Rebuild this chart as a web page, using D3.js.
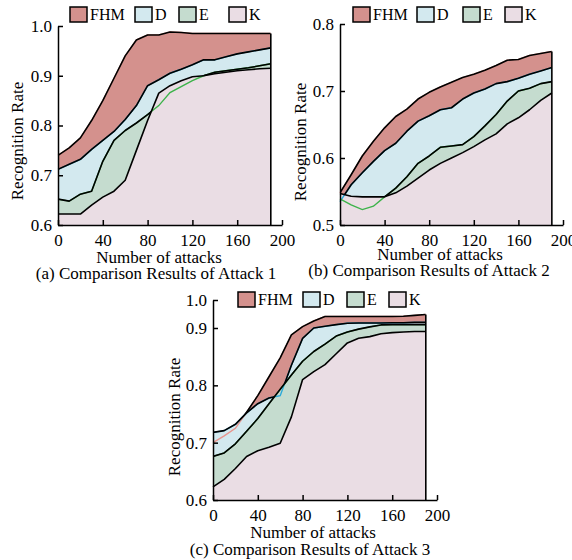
<!DOCTYPE html>
<meta charset="utf-8">
<head>
<title>Recognition rate under attacks</title>
<script src="https://cdn.jsdelivr.net/npm/d3@7"></script>
<style>
    body { margin: 0; background: #fff; }
    svg text { font-family: "Liberation Serif", Tinos, "Times New Roman", Times, "DejaVu Serif", serif; fill: #000; }
</style>
</head>
<body>
<div id="chart"></div>
<script>
    // number of attacks (x values, shared by every panel)
    var attacks = [0, 10, 20, 30, 40, 50, 60, 70, 80, 90, 100, 110, 120, 130, 140, 150, 160, 170, 180, 190];
    var xTicks = [0, 40, 80, 120, 160, 200];

    var seriesNames = ["FHM", "D", "E", "K"];
    var fillColors = ["#d4918d", "#d3e9ef", "#c5dccf", "#eadde4"];
    var lineColors = ["#e8958e", "#2aa9d9", "#3cb34a", "#000000"];

    // (a) attack 1
    var fhm1 = [0.740, 0.755, 0.775, 0.810, 0.850, 0.895, 0.940, 0.972, 0.982, 0.982, 0.988, 0.987, 0.985, 0.985, 0.985, 0.985, 0.985, 0.985, 0.985, 0.985];
    var d1   = [0.712, 0.722, 0.732, 0.752, 0.770, 0.788, 0.812, 0.840, 0.880, 0.892, 0.905, 0.913, 0.922, 0.932, 0.932, 0.938, 0.944, 0.948, 0.952, 0.956];
    var e1   = [0.652, 0.648, 0.662, 0.668, 0.728, 0.770, 0.790, 0.805, 0.822, 0.840, 0.866, 0.878, 0.890, 0.900, 0.907, 0.910, 0.913, 0.916, 0.920, 0.924];
    var k1   = [0.622, 0.622, 0.622, 0.640, 0.656, 0.668, 0.690, 0.750, 0.810, 0.865, 0.880, 0.890, 0.898, 0.900, 0.904, 0.907, 0.910, 0.912, 0.914, 0.915];

    // (b) attack 2
    var fhm2 = [0.548, 0.575, 0.603, 0.625, 0.645, 0.662, 0.673, 0.688, 0.698, 0.706, 0.713, 0.720, 0.725, 0.731, 0.738, 0.746, 0.747, 0.753, 0.756, 0.759];
    var d2   = [0.535, 0.560, 0.578, 0.595, 0.611, 0.622, 0.640, 0.655, 0.663, 0.672, 0.675, 0.688, 0.697, 0.703, 0.711, 0.714, 0.719, 0.725, 0.730, 0.735];
    var e2   = [0.539, 0.530, 0.523, 0.528, 0.542, 0.555, 0.572, 0.592, 0.603, 0.616, 0.618, 0.620, 0.632, 0.648, 0.665, 0.685, 0.700, 0.704, 0.711, 0.714];
    var k2   = [0.547, 0.543, 0.542, 0.542, 0.542, 0.548, 0.558, 0.570, 0.582, 0.592, 0.600, 0.608, 0.617, 0.627, 0.636, 0.651, 0.660, 0.672, 0.686, 0.697];

    // (c) attack 3
    var fhm3 = [0.700, 0.712, 0.725, 0.753, 0.782, 0.815, 0.848, 0.888, 0.905, 0.925, 0.941, 0.941, 0.941, 0.941, 0.941, 0.941, 0.941, 0.942, 0.945, 0.948];
    var d3s  = [0.718, 0.721, 0.732, 0.752, 0.768, 0.778, 0.782, 0.835, 0.882, 0.900, 0.906, 0.912, 0.917, 0.918, 0.918, 0.918, 0.919, 0.919, 0.920, 0.920];
    var e3   = [0.676, 0.682, 0.698, 0.720, 0.742, 0.768, 0.793, 0.818, 0.842, 0.859, 0.872, 0.886, 0.893, 0.898, 0.904, 0.911, 0.912, 0.912, 0.912, 0.912];
    var k3   = [0.623, 0.636, 0.655, 0.676, 0.686, 0.692, 0.699, 0.745, 0.810, 0.824, 0.836, 0.855, 0.874, 0.882, 0.885, 0.890, 0.892, 0.893, 0.894, 0.894];

    var yTicks1 = [0.6, 0.7, 0.8, 0.9, 1.0];
    var yTicks2 = [0.5, 0.6, 0.7, 0.8];
    var yTicks3 = [0.6, 0.7, 0.8, 0.9, 1.0];

    var svg = d3.select("#chart").append("svg")
        .attr("width", 572)
        .attr("height", 560);

    var panels = [
        {id: "a", series: [fhm1, d1, e1, k1], yTicks: yTicks1,
         x: d3.scaleLinear().domain([0, 200]).range([58, 282]),
         y: d3.scaleLinear().domain([0.6, 1.0]).range([225, 26]),
         legendX: [70, 135, 179, 229], legendY: 7,
         yLabel: [23, 141], xLabel: [159, 263], caption: [156, 279],
         captionText: "(a) Comparison Results of Attack 1"},
        {id: "b", series: [fhm2, d2, e2, k2], yTicks: yTicks2,
         x: d3.scaleLinear().domain([0, 200]).range([340, 563]),
         y: d3.scaleLinear().domain([0.5, 0.8]).range([225, 24]),
         legendX: [353, 417, 463, 505], legendY: 7,
         yLabel: [306, 142], xLabel: [440, 260], caption: [429, 276],
         captionText: "(b) Comparison Results of Attack 2"},
        {id: "c", series: [fhm3, d3s, e3, k3], yTicks: yTicks3,
         x: d3.scaleLinear().domain([0, 200]).range([213, 437]),
         // the top of this axis is squeezed in the original figure
         y: d3.scaleLinear().domain([0.6, 0.9, 1.0]).range([500, 328, 300]),
         legendX: [238, 303, 347, 389], legendY: 292,
         yLabel: [180, 417], xLabel: [313, 538], caption: [310, 555],
         captionText: "(c) Comparison Results of Attack 3"}
    ];

    panels.forEach(drawPanel);

    function drawPanel(p) {
        var g = svg.append("g").attr("class", "panel-" + p.id);
        var x = p.x, y = p.y;
        var yBottom = y.domain()[0];
        var yTop = y.domain()[y.domain().length - 1];

        var area = d3.area()
            .x(function(d, i) { return x(attacks[i]); })
            .y0(y(yBottom))
            .y1(function(d) { return y(d); });
        var line = d3.line()
            .x(function(d, i) { return x(attacks[i]); })
            .y(function(d) { return y(d); });
        var above = d3.area()
            .x(function(d, i) { return x(attacks[i]); })
            .y0(y(yTop) - 10)
            .y1(function(d) { return y(d); });

        // clip regions: everything above each series
        p.series.forEach(function(s, i) {
            g.append("clipPath").attr("id", "above-" + p.id + i)
              .append("path").attr("d", above(s));
        });

        // filled areas, drawn in order so K ends on top
        p.series.forEach(function(s, i) {
            g.append("path").attr("d", area(s))
              .attr("fill", fillColors[i]);
        });

        // coloured lines show where a series is hidden under a later one
        p.series.forEach(function(s, i) {
            if (i == p.series.length - 1) return;
            g.append("path").attr("d", line(s))
              .attr("fill", "none")
              .attr("stroke", lineColors[i])
              .attr("stroke-width", 1.4);
        });

        // black outline only where a series is visible
        p.series.forEach(function(s, i) {
            var holder = g;
            for (var j = i + 1; j < p.series.length; j++) {
                holder = holder.append("g").attr("clip-path", "url(#above-" + p.id + j + ")");
            }
            holder.append("path").attr("d", line(s))
              .attr("fill", "none")
              .attr("stroke", "#000")
              .attr("stroke-width", 1.6)
              .attr("stroke-linejoin", "round");
        });

        // right edge of the stacked areas
        var last = attacks.length - 1;
        var edgeTop = d3.max(p.series, function(s) { return s[last]; });
        g.append("line")
            .attr("x1", x(attacks[last])).attr("x2", x(attacks[last]))
            .attr("y1", y(yBottom)).attr("y2", y(edgeTop))
            .attr("stroke", "#000").attr("stroke-width", 1.6);

        // axes
        var yAxis = g.append("g")
            .attr("transform", "translate(" + x(0) + ",0)")
            .call(d3.axisLeft(y).tickValues(p.yTicks).tickFormat(d3.format(".1f"))
                  .tickSizeInner(-5).tickSizeOuter(0).tickPadding(6));
        var xAxis = g.append("g")
            .attr("transform", "translate(0," + y(yBottom) + ")")
            .call(d3.axisBottom(x).tickValues(xTicks)
                  .tickSizeInner(-5).tickSizeOuter(0).tickPadding(9));
        [xAxis, yAxis].forEach(function(ax) {
            ax.attr("font-family", null).attr("font-size", null);
            ax.selectAll("path, line").attr("stroke", "#000").attr("stroke-width", 1.5);
            ax.selectAll("text").style("font-size", "17px");
        });

        // legend
        p.legendX.forEach(function(lx, i) {
            g.append("rect")
                .attr("x", lx).attr("y", p.legendY)
                .attr("width", 17).attr("height", 15)
                .attr("fill", fillColors[i])
                .attr("stroke", "#000").attr("stroke-width", 1.5);
            g.append("text")
                .attr("x", lx + 20).attr("y", p.legendY + 13)
                .style("font-size", "16px")
                .text(seriesNames[i]);
        });

        // labels
        g.append("text")
            .attr("transform", "translate(" + p.yLabel[0] + "," + p.yLabel[1] + ") rotate(-90)")
            .attr("text-anchor", "middle")
            .style("font-size", "17px")
            .text("Recognition Rate");
        g.append("text")
            .attr("x", p.xLabel[0]).attr("y", p.xLabel[1])
            .attr("text-anchor", "middle")
            .style("font-size", "17px")
            .text("Number of attacks");
        g.append("text")
            .attr("x", p.caption[0]).attr("y", p.caption[1])
            .attr("text-anchor", "middle")
            .style("font-size", "17px")
            .text(p.captionText);
    }
</script>
</body>
</html>
